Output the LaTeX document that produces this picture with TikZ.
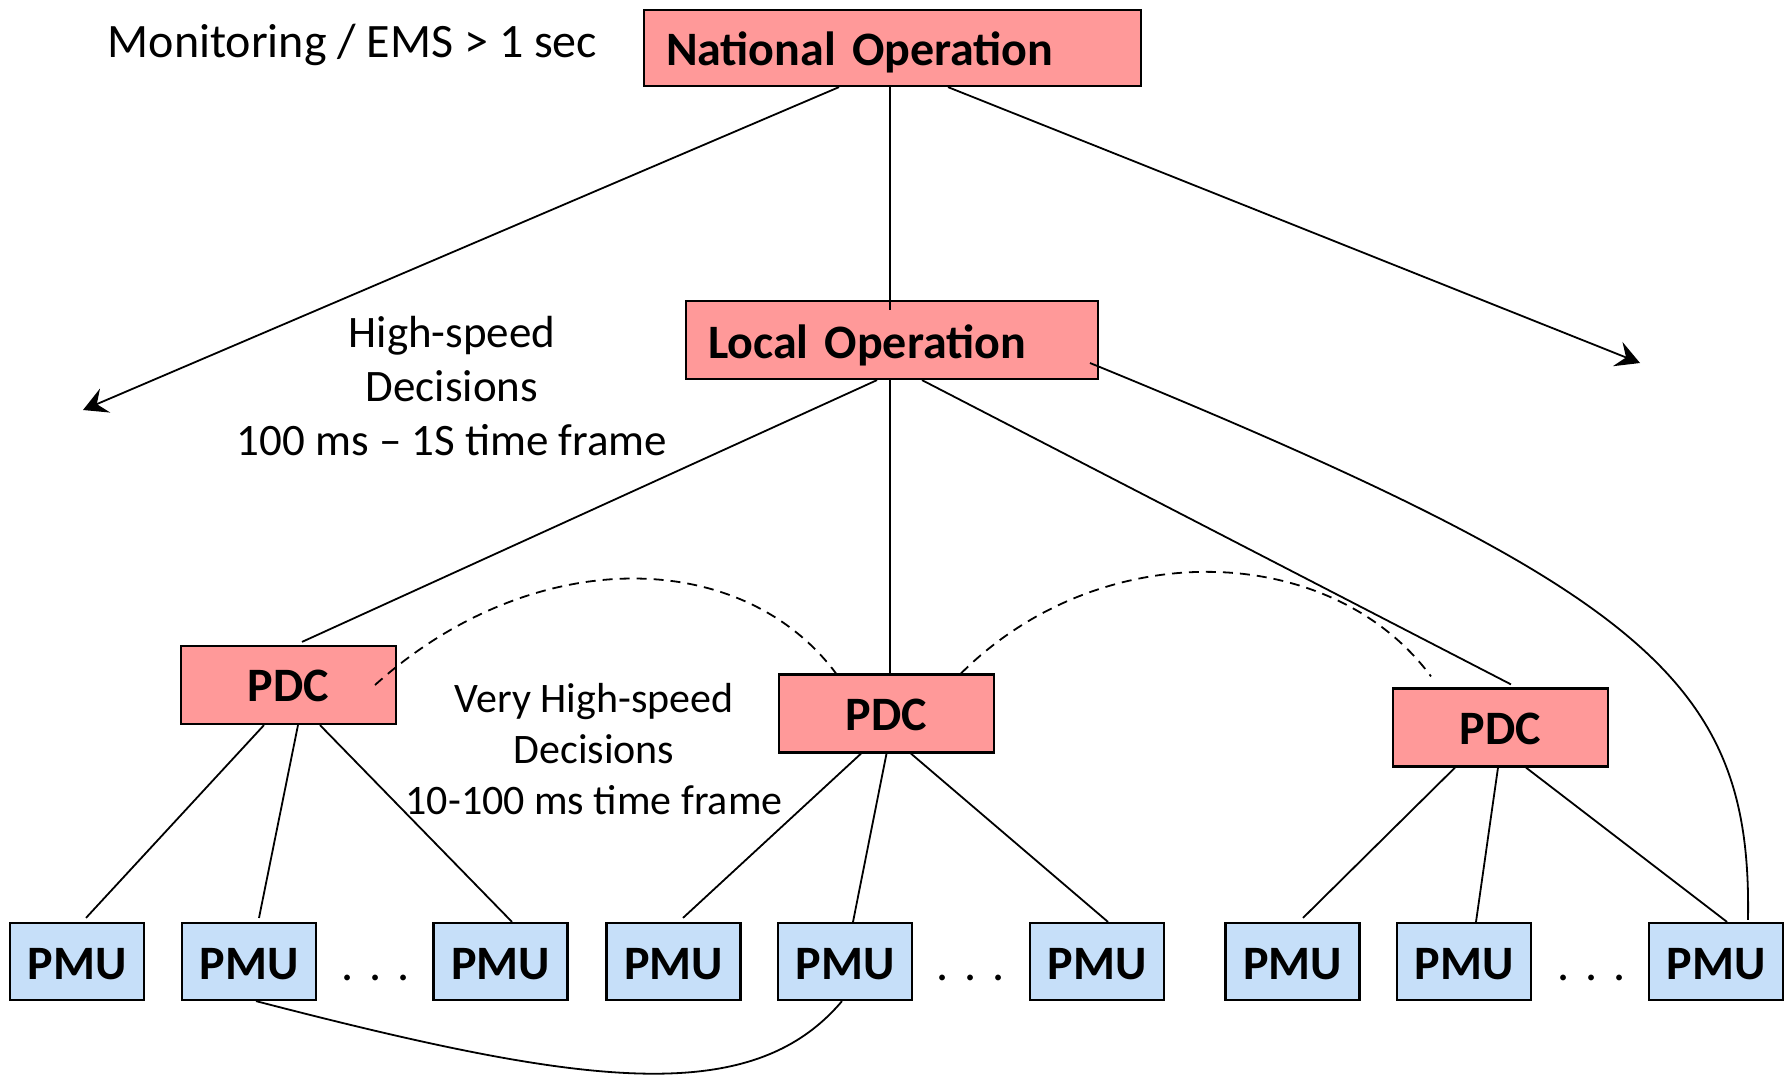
\documentclass[tikz,border=0pt]{standalone}
\usepackage{fontspec}
\setmainfont{Carlito}
\usetikzlibrary{arrows.meta}
\definecolor{boxred}{HTML}{FF9999}
\definecolor{boxblue}{HTML}{C6DFF9}
\begin{document}
\begin{tikzpicture}[x=0.5pt,y=-0.5pt,
  redbox/.style={draw=black, line width=1.1pt, fill=boxred, font=\fontsize{24}{28}\selectfont\bfseries, inner sep=0pt},
  opbox/.style={redbox, align=left, inner xsep=11pt, text width=#1},
  pdcbox/.style={redbox, minimum width=107.5pt, minimum height=39pt, text height=16.5pt, text depth=0pt},
  pmubox/.style={draw=black, line width=1.1pt, fill=boxblue, font=\fontsize{24}{28}\selectfont\bfseries, minimum width=67pt, minimum height=38.5pt, inner sep=0pt, text height=17.5pt, text depth=0pt},
  link/.style={line width=0.9pt},
  dashlink/.style={link, dash pattern=on 5pt off 3.5pt},
  arrowlink/.style={link, -{Stealth[length=12pt,width=13pt,inset=4.5pt]}},
  lbl/.style={align=center, inner sep=0pt},
  dots/.style={inner sep=0pt, anchor=base, font=\fontsize{24}{28}\selectfont}
]
\useasboundingbox (0,0) rectangle (1784,1078);

% boxes
\node[opbox=226.5pt, minimum height=38pt, text height=19pt, text depth=2pt] (nat) at (892.5,48) {National Operation};
\node[opbox=184pt, minimum height=39pt, text height=20pt, text depth=2pt] (loc) at (892,340) {Local Operation};
\node[pdcbox] (pdc1) at (288.5,685) {PDC};
\node[pdcbox] (pdc2) at (886.5,713.5) {PDC};
\node[pdcbox] (pdc3) at (1500.5,727.5) {PDC};
\node[pmubox] (pmu1) at (77,961.5) {PMU};
\node[pmubox] (pmu2) at (249,961.5) {PMU};
\node[pmubox] (pmu3) at (500.5,961.5) {PMU};
\node[pmubox] (pmu4) at (673.5,961.5) {PMU};
\node[pmubox] (pmu5) at (845,961.5) {PMU};
\node[pmubox] (pmu6) at (1097,961.5) {PMU};
\node[pmubox] (pmu7) at (1292.5,961.5) {PMU};
\node[pmubox] (pmu8) at (1464,961.5) {PMU};
\node[pmubox] (pmu9) at (1716,961.5) {PMU};

% labels
\node[lbl, anchor=base, font=\fontsize{24}{28}\selectfont] (mon) at (352.5,57) {Monitoring / EMS > 1 sec};
\node[lbl, font=\fontsize{22.5}{27}\selectfont] (hs) at (452,386) {High-speed\\Decisions\\100 ms – 1S time frame};
\node[lbl, font=\fontsize{21}{25.5}\selectfont] (vhs) at (594,749) {Very High-speed\\Decisions\\10-100 ms time frame};
\node[dots] (d1) at (376,980) {.\hspace{8pt}.\hspace{8pt}.};
\node[dots] (d2) at (971,980) {.\hspace{8pt}.\hspace{8pt}.};
\node[dots] (d3) at (1592,980) {.\hspace{8pt}.\hspace{8pt}.};

% arrow endpoints
\coordinate (leftend) at (83,410);
\coordinate (rightend) at (1640,363);

% national links
\draw[arrowlink] ([xshift=-26.75pt]nat.south) -- (leftend);
\draw[arrowlink] ([xshift=27.75pt]nat.south) -- (rightend);
\draw[link] ([xshift=-1.25pt]nat.south) -- ([xshift=-1pt,yshift=-5pt]loc.north);

% local links
\draw[link] ([xshift=-7.5pt]loc.south) -- ([xshift=6.75pt,yshift=1.5pt]pdc1.north);
\draw[link] ([xshift=-1pt]loc.south) -- ([xshift=1.75pt]pdc2.north);
\draw[link] ([xshift=15pt]loc.south) -- ([xshift=5.25pt,yshift=1.5pt]pdc3.north);
\draw[link] ([xshift=99pt,yshift=-11.5pt]loc.center) .. controls (1650,592) and (1752,683) .. ([xshift=16pt,yshift=1pt]pmu9.north);

% PDC to PMU
\draw[link] ([xshift=-12.25pt]pdc1.south) -- ([xshift=4.5pt,yshift=2pt]pmu1.north);
\draw[link] ([xshift=4.75pt]pdc1.south) -- ([xshift=5pt,yshift=2pt]pmu2.north);
\draw[link] ([xshift=15.75pt]pdc1.south) -- ([xshift=5.75pt]pmu3.north);
\draw[link] ([xshift=-12.75pt]pdc2.south) -- ([xshift=4.75pt,yshift=2pt]pmu4.north);
\draw[link] ([xshift=0pt]pdc2.south) -- ([xshift=4pt]pmu5.north);
\draw[link] ([xshift=12.25pt]pdc2.south) -- ([xshift=5.5pt]pmu6.north);
\draw[link] ([xshift=-22.75pt]pdc3.south) -- ([xshift=5.25pt,yshift=2pt]pmu7.north);
\draw[link] ([xshift=-1.25pt]pdc3.south) -- ([xshift=6pt]pmu8.north);
\draw[link] ([xshift=12.75pt]pdc3.south) -- ([xshift=5.5pt]pmu9.north);

% dashed links between PDCs
\draw[dashlink] ([xshift=43.25pt]pdc1.center) .. controls (530,545) and (740,545) .. ([xshift=-25.25pt]pdc2.north);
\draw[dashlink] ([xshift=37.25pt]pdc2.north) .. controls (1100,535) and (1330,540) .. ([xshift=-34.75pt,yshift=5.5pt]pdc3.north);

% PMU to PMU curve
\draw[link] ([xshift=3.5pt]pmu2.south) .. controls (580,1085) and (750,1110) .. ([xshift=-1.5pt]pmu5.south);
\end{tikzpicture}
\end{document}
